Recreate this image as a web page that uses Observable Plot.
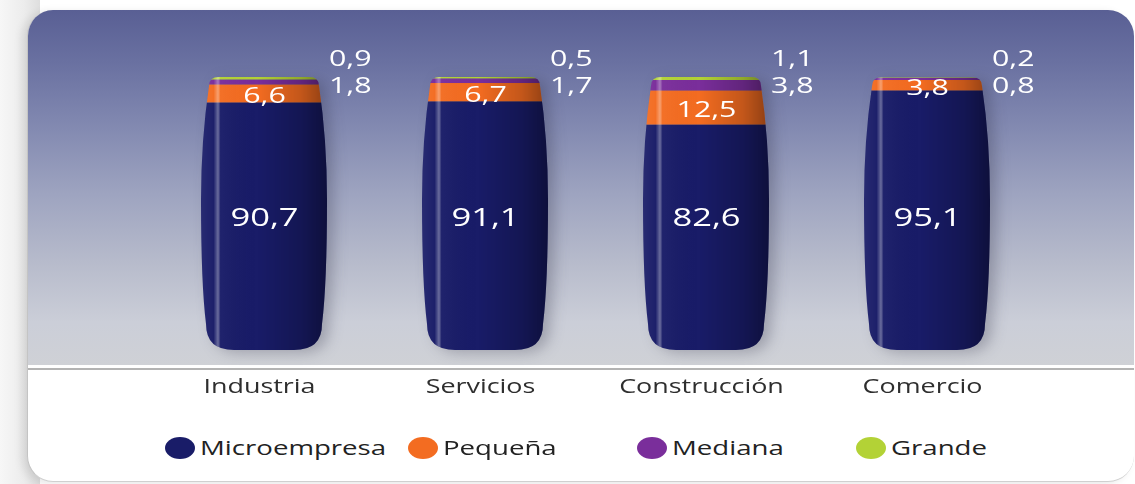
<!DOCTYPE html>
<html>
<head>
<meta charset="utf-8">
<script src="https://cdn.jsdelivr.net/npm/d3@7"></script>
<script src="https://cdn.jsdelivr.net/npm/@observablehq/plot@0.6"></script>
<style>
  html, body { margin: 0; padding: 0; background: #fff; }
  #wrap { position: relative; width: 1135px; height: 484px; overflow: hidden; font-family: "Open Sans", sans-serif; background: #fff; }
  #shadow { position: absolute; left: 0; top: 0; width: 40px; height: 484px; background: linear-gradient(to right, #f7f7f7, #ececec 60%, #dedede); }
  #panel { position: absolute; left: 27px; top: 10px; width: 1106px; height: 471px; border-radius: 26px; background: #fff; border-left: 1px solid #c4c4c4; border-bottom: 1px solid #d0d0d0; overflow: hidden; box-shadow: -5px 2px 9px rgba(0,0,0,0.10); }
  #band { position: absolute; left: 0; top: 0; right: 0; height: 355px; background: linear-gradient(to bottom, #595f94 0%, #6a71a1 15%, #8188b0 32%, #9ea4c0 52%, #b8bccc 72%, #cbced8 88%, #cfd1d6 100%); }
  #rule { position: absolute; left: 0; right: 0; top: 358px; height: 2px; background: #b3b3b3; }
  #chart { position: absolute; left: 0; top: 0; }
  .leg { position: absolute; top: 437px; height: 22px; display: flex; align-items: center; }
  .dot { width: 30px; height: 22px; border-radius: 50%; flex: none; }
  .lab { font-size: 20px; color: #222; transform: scaleX(1.38); transform-origin: left center; margin-left: 5px; white-space: nowrap; line-height: 22px; }
</style>
</head>
<body>
<div id="wrap">
  <div id="shadow"></div>
  <div id="panel"><div id="band"></div><div id="rule"></div></div>
  <div id="chart"></div>
  <div id="legend"></div>
</div>
<script>
// ---- data ----
const categories = ["Industria", "Servicios", "Construcción", "Comercio"];
const sizes = ["Microempresa", "Pequeña", "Mediana", "Grande"];
const micro   = [90.7, 91.1, 82.6, 95.1];
const pequena = [6.6, 6.7, 12.5, 3.8];
const mediana = [1.8, 1.7, 3.8, 0.8];
const grande  = [0.9, 0.5, 1.1, 0.2];
const colors  = ["#191c68", "#f36c21", "#7a2e9b", "#b3d236"];

const series = [micro, pequena, mediana, grande];
const rows = [];
categories.forEach((c, i) => sizes.forEach((s, j) => rows.push({cat: c, size: s, value: series[j][i]})));
const totals = categories.map((c, i) => d3.sum(series, s => s[i]));
const fmt = v => d3.format(".1f")(v).replace(".", ",");

const plot = Plot.plot({
  width: 1135,
  height: 420,
  marginTop: 77,
  marginBottom: 70,
  marginLeft: 104.5,
  marginRight: 47.5,
  style: {background: "transparent", fontFamily: "'Open Sans', sans-serif", overflow: "visible"},
  x: {domain: categories, padding: 0.428, axis: null},
  y: {domain: [0, 100], axis: null},
  color: {domain: sizes, range: colors},
  marks: [
    Plot.barY(rows, {x: "cat", y: "value", fill: "size"}),
    Plot.barY(categories, {x: d => d, y: (d, i) => totals[i], fill: "url(#shade)"}),
    Plot.text(categories, {x: d => d, text: (d, i) => fmt(micro[i]), frameAnchor: "middle", dy: 12, fill: "white", fontSize: 25}),
    Plot.text(categories, {x: d => d, y: (d, i) => micro[i] + pequena[i] / 2, text: (d, i) => fmt(pequena[i]), dy: 9, fill: "white", fontSize: 22}),
    Plot.text(categories, {x: d => d, text: (d, i) => fmt(mediana[i]), frameAnchor: "top", dy: 15, dx: 107, textAnchor: "end", fill: "white", fontSize: 22}),
    Plot.text(categories, {x: d => d, text: (d, i) => fmt(grande[i]), frameAnchor: "top", dy: -12, dx: 107, textAnchor: "end", fill: "white", fontSize: 22}),
    Plot.text(categories, {x: d => d, text: d => d, frameAnchor: "bottom", dy: 42, dx: -5, fill: "#2e2e2e", fontSize: 19.5})
  ]
});
document.getElementById("chart").appendChild(plot);

// ---- decoration: gradient, capsule clipping, stretched text ----
const svg = d3.select(plot);
const defs = svg.append("defs");
const grad = defs.append("linearGradient").attr("id", "shade").attr("x1", 0).attr("x2", 1).attr("y1", 0).attr("y2", 0);
[[0, "#fff", 0.07], [0.1, "#fff", 0.02], [0.135, "#fff", 0.36], [0.155, "#fff", 0.03], [0.45, "#000", 0], [0.8, "#000", 0.2], [1, "#000", 0.42]]
  .forEach(([o, c, a]) => grad.append("stop").attr("offset", o).attr("stop-color", c).attr("stop-opacity", a));

function capsule(x, y, w, h) {
  const ti = 8, bi = 5, rtx = 10, rty = 9, rbx = 28, rby = 26;
  const xl = x, xr = x + w, yt = y, yb = y + h, ym = y + h * 0.45;
  return `M${xl + ti + rtx},${yt} L${xr - ti - rtx},${yt} Q${xr - ti},${yt} ${xr - ti},${yt + rty} ` +
    `Q${xr},${ym - 60} ${xr},${ym} Q${xr},${yb - rby - 40} ${xr - bi},${yb - rby} ` +
    `Q${xr - bi},${yb} ${xr - bi - rbx},${yb} L${xl + bi + rbx},${yb} Q${xl + bi},${yb} ${xl + bi},${yb - rby} ` +
    `Q${xl},${yb - rby - 40} ${xl},${ym} Q${xl},${ym - 60} ${xl + ti},${yt + rty} Q${xl + ti},${yt} ${xl + ti + rtx},${yt} Z`;
}

const allRects = svg.selectAll("rect").nodes();
const shadeRects = allRects.filter(r => (r.parentNode.getAttribute("fill") || "") === "url(#shade)" || r.getAttribute("fill") === "url(#shade)");
shadeRects.forEach((r, i) => {
  const x = +r.getAttribute("x"), w = +r.getAttribute("width"), y = +r.getAttribute("y"), h = +r.getAttribute("height");
  const id = "capclip" + i;
  defs.append("clipPath").attr("id", id).append("path").attr("d", capsule(x, y, w, h));
  allRects.filter(o => o.getAttribute("x") === r.getAttribute("x")).forEach(o => o.setAttribute("clip-path", `url(#${id})`));
});
const stackRect = allRects.find(r => !shadeRects.includes(r));
if (stackRect) stackRect.parentNode.style.filter = "drop-shadow(7px 3px 7px rgba(40,40,60,0.28))";

svg.selectAll("text").each(function () {
  let tr = this.getAttribute("transform") || "";
  const x = this.getAttribute("x"), y = this.getAttribute("y");
  if (x !== null || y !== null) {
    tr += ` translate(${+x || 0},${+y || 0})`;
    this.removeAttribute("x"); this.removeAttribute("y");
  }
  this.setAttribute("transform", tr + " scale(1.38,1)");
});

// ---- legend ----
const legendLeft = [165, 408, 637, 856];
const legend = document.getElementById("legend");
sizes.forEach((s, i) => {
  const item = document.createElement("div");
  item.className = "leg";
  item.style.left = legendLeft[i] + "px";
  item.innerHTML = `<div class="dot" style="background:${colors[i]}"></div><span class="lab">${s}</span>`;
  legend.appendChild(item);
});
</script>
</body>
</html>
